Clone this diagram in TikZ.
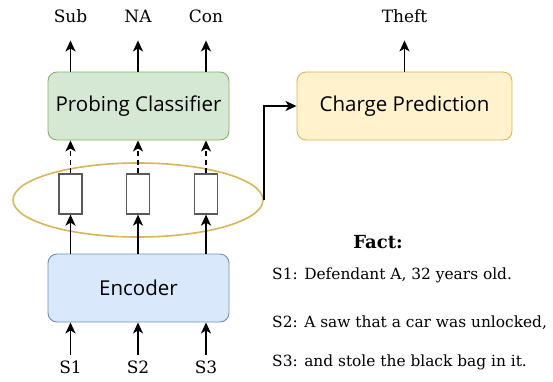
\documentclass[tikz,border=0pt]{standalone}
\usepackage{fontspec}
\setmainfont{DejaVu Serif}
\newfontfamily\boxfont{Open Sans}
\usetikzlibrary{arrows.meta,positioning,calc,shapes.geometric}

\definecolor{probefill}{HTML}{D5E8D4}
\definecolor{probeline}{HTML}{82B366}
\definecolor{encfill}{HTML}{DAE8FC}
\definecolor{encline}{HTML}{6C8EBF}
\definecolor{chargefill}{HTML}{FFF2CC}
\definecolor{chargeline}{HTML}{D6B656}

\begin{document}
\begin{tikzpicture}[
    x=1pt, y=1pt,
    box/.style={draw, line width=0.9pt, rounded corners=9pt, minimum width=181pt, minimum height=68pt, font=\boxfont\fontsize{20.5}{24}\selectfont},
    vec/.style={draw=black!65, line width=1.2pt, fill=white, minimum width=23pt, minimum height=40pt, inner sep=0pt},
    lbl/.style={font=\fontsize{17}{20}\selectfont, inner sep=0pt, anchor=base},
    factline/.style={font=\fontsize{15.4}{18}\selectfont, inner sep=0pt, anchor=base west},
    >={Stealth[length=11pt,width=10pt,inset=3pt]},
    arrow/.style={->, line width=1.7pt}
]
\useasboundingbox (0,0) rectangle (553,381);

% Encoder
\node[box, fill=encfill, draw=encline] (enc) at (138.5,93) {Encoder};

% Hidden states
\node[draw=chargeline, line width=1.6pt, ellipse, minimum width=250pt, minimum height=74pt, inner sep=0pt] (ell) at (138,181) {};
\node[vec] (h1) at (70.5,187) {};
\node[vec] (h2) at (138,187) {};
\node[vec] (h3) at (206,187) {};

% Probing classifier
\node[box, fill=probefill, draw=probeline] (probe) at (138.5,275) {Probing Classifier};

% Charge prediction
\node[box, fill=chargefill, draw=chargeline, minimum width=215pt] (charge) at (404.5,275) {Charge Prediction};

% Inputs
\node[lbl] (s1) at (70.5,8) {S1};
\node[lbl] (s2) at (138,8) {S2};
\node[lbl] (s3) at (206,8) {S3};

% Outputs
\node[lbl] (sub) at (70.5,358) {Sub};
\node[lbl] (na) at (138,358) {NA};
\node[lbl] (con) at (206,358) {Con};
\node[lbl] (theft) at (404.5,358) {Theft};

\foreach \i/\o in {s1/h1,s2/h2,s3/h3} {
    \draw[arrow, shorten <=5pt] (\i.north) -- (\i.north |- enc.south);
    \draw[arrow] (\i.north |- enc.north) -- (\o.south);
}
\foreach \h/\o in {h1/sub,h2/na,h3/con} {
    \draw[arrow, dash pattern=on 5pt off 3.5pt] (\h.north) -- (\h.north |- probe.south);
    \draw[arrow, shorten >=17pt] (\h.north |- probe.north) -- (\o.south);
}
\draw[arrow, shorten >=17pt] (charge.north) -- (theft.south);
\draw[arrow] (ell.east) |- (charge.west);

% Fact text
\node[lbl, font=\fontsize{18}{20}\selectfont\bfseries] (fact) at (378,133) {Fact:};
\node[factline] (f1) at (272,102) {S1: Defendant A, 32 years old.};
\node[factline] (f2) at (272,54) {S2: A saw that a car was unlocked,};
\node[factline] (f3) at (272,15) {S3: and stole the black bag in it.};

\end{tikzpicture}
\end{document}
